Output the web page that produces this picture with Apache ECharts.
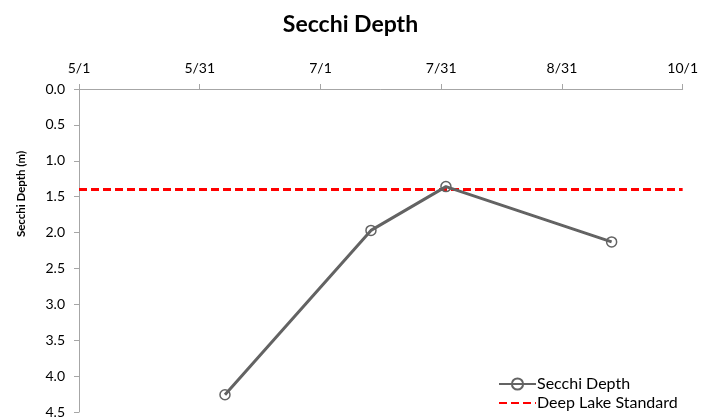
<!DOCTYPE html>
<html>
<head>
<meta charset="utf-8">
<script src="https://cdn.jsdelivr.net/npm/echarts@6/dist/echarts.min.js"></script>
<style>html,body{margin:0;padding:0;background:#fff}#c{width:701px;height:419px}</style>
</head>
<body>
<div id="c"></div>
<script>
// ---- data ----
const sampleDates = ['6/7', '7/14', '8/2', '9/13'];
const secchiDepth = [4.26, 1.97, 1.36, 2.13];
const deepLakeStandard = 1.4;
const xTickLabels = ['5/1', '5/31', '7/1', '7/31', '8/31', '10/1'];
const xTickStep = 30.6;   // days between Excel major ticks
const yTickLabels = ['0.0','0.5','1.0','1.5','2.0','2.5','3.0','3.5','4.0','4.5'];

function dayOfSeason(md) {
  const [m, d] = md.split('/').map(Number);
  return (Date.UTC(2021, m - 1, d) - Date.UTC(2021, 4, 1)) / 86400000;
}
const xMax = xTickStep * (xTickLabels.length - 1);
const secchiData = sampleDates.map((d, i) => [dayOfSeason(d), secchiDepth[i]]);
const standardData = [[0, deepLakeStandard], [xMax, deepLakeStandard]];

const FONT = 'Lato';
const chart = echarts.init(document.getElementById('c'), null, {renderer: 'canvas'});
chart.setOption({
  animation: false,
  backgroundColor: '#ffffff',
  title: {
    text: 'Secchi Depth', left: 'center', top: 8,
    textStyle: {fontFamily: FONT, fontSize: 23, fontWeight: 'bold', color: '#000'}
  },
  grid: {left: 79, right: 15.5, top: 89, bottom: 4.5},
  xAxis: {
    type: 'value', position: 'top', min: 0, max: xMax, interval: xTickStep,
    axisLine: {show: true, lineStyle: {color: '#a6a6a6', width: 1}},
    axisTick: {show: true, length: 5, lineStyle: {color: '#a6a6a6'}},
    splitLine: {show: false},
    axisLabel: {
      fontFamily: FONT, fontSize: 14, color: '#000', margin: 14,
      showMaxLabel: true, showMinLabel: true,
      formatter: v => xTickLabels[Math.round(v / xTickStep)]
    }
  },
  yAxis: {
    type: 'value', inverse: true, min: 0, max: 4.5, interval: 0.5,
    axisLine: {show: true, lineStyle: {color: '#a6a6a6', width: 1}},
    axisTick: {show: true, length: 5, lineStyle: {color: '#a6a6a6'}},
    splitLine: {show: false},
    axisLabel: {
      fontFamily: FONT, fontSize: 14, color: '#000', margin: 14,
      formatter: v => yTickLabels[Math.round(v / 0.5)]
    }
  },
  graphic: [{
    type: 'text', x: 21, y: 194, rotation: Math.PI / 2,
    style: {text: 'Secchi Depth (m)', fontFamily: FONT, fontSize: 11.5, fontWeight: 'bold',
            fill: '#000', align: 'center', verticalAlign: 'middle'}
  }],
  legend: {
    orient: 'vertical', left: 493, top: 371, itemGap: 3, itemWidth: 37, itemHeight: 14,
    textStyle: {fontFamily: FONT, fontSize: 16, color: '#000', padding: [0,0,0,-4]},
    data: [
      {name: 'Secchi Depth'},
      {name: 'Deep Lake Standard', itemStyle: {opacity: 0}}
    ]
  },
  series: [
    {
      name: 'Deep Lake Standard', type: 'line', data: standardData,
      symbol: 'none', z: 2,
      lineStyle: {color: '#ff0000', width: 3, type: [8, 4]},
      itemStyle: {color: '#ff0000'}
    },
    {
      name: 'Secchi Depth', type: 'line', data: secchiData,
      symbol: 'circle', symbolSize: 10, z: 3,
      lineStyle: {color: '#636363', width: 3},
      itemStyle: {color: 'rgba(255,255,255,0)', borderColor: '#636363', borderWidth: 1.5}
    }
  ]
});
</script>
</body>
</html>
